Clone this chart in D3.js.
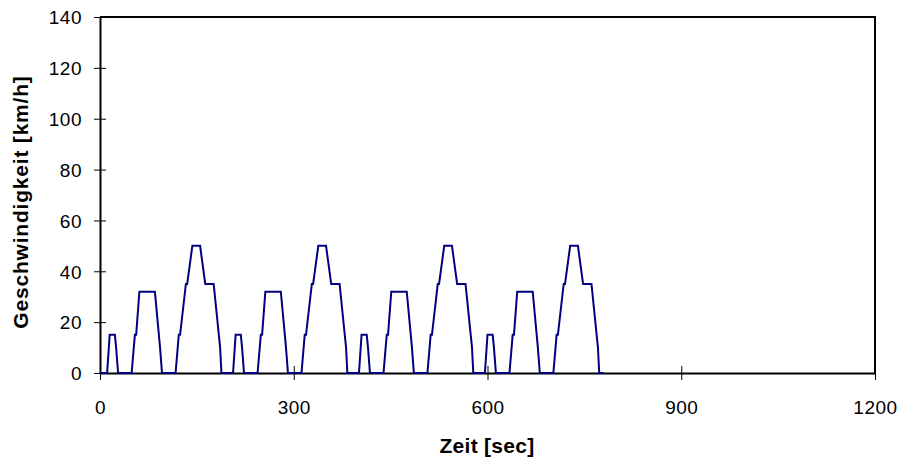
<!DOCTYPE html>
<html>
<head>
<meta charset="utf-8">
<script src="https://cdn.jsdelivr.net/npm/d3@7"></script>
<style>
  body { margin: 0; background: #fff; }
  text { font-family: "Liberation Sans", Arial, sans-serif; }
</style>
</head>
<body>
<div id="root"></div>
<script>
// ECE-15 urban cycle, four times in a row (time in s, speed in km/h)
const times = [
  0, 11, 15, 23, 25, 28, 49, 54, 56, 61, 85, 93, 96, 117, 122, 124, 133, 135, 143, 155, 163, 176, 186, 188, 195,
  206, 210, 218, 220, 223, 244, 249, 251, 256, 280, 288, 291, 312, 317, 319, 328, 330, 338, 350, 358, 371, 381, 383, 390,
  401, 405, 413, 415, 418, 439, 444, 446, 451, 475, 483, 486, 507, 512, 514, 523, 525, 533, 545, 553, 566, 576, 578, 585,
  596, 600, 608, 610, 613, 634, 639, 641, 646, 670, 678, 681, 702, 707, 709, 718, 720, 728, 740, 748, 761, 771, 773, 780
];
const speeds = [
  0, 0, 15, 15, 10, 0, 0, 15, 15, 32, 32, 10, 0, 0, 15, 15, 35, 35, 50, 50, 35, 35, 10, 0, 0,
  0, 15, 15, 10, 0, 0, 15, 15, 32, 32, 10, 0, 0, 15, 15, 35, 35, 50, 50, 35, 35, 10, 0, 0,
  0, 15, 15, 10, 0, 0, 15, 15, 32, 32, 10, 0, 0, 15, 15, 35, 35, 50, 50, 35, 35, 10, 0, 0,
  0, 15, 15, 10, 0, 0, 15, 15, 32, 32, 10, 0, 0, 15, 15, 35, 35, 50, 50, 35, 35, 10, 0, 0
];
const xTicks = [0, 300, 600, 900, 1200];
const yTicks = [0, 20, 40, 60, 80, 100, 120, 140];
const xTitle = 'Zeit [sec]';
const yTitle = 'Geschwindigkeit [km/h]';

const w = 902, h = 459;
const pLeft = 100, pRight = 875, pTop = 17, pBottom = 373;

const svg = d3.select('#root').append('svg')
  .attr('width', w)
  .attr('height', h);

const x = d3.scaleLinear().domain([0, 1200]).range([pLeft, pRight]);
const y = d3.scaleLinear().domain([0, 140]).range([pBottom, pTop]);

// plot frame (top + right)
svg.append('path')
  .attr('d', `M${pLeft},${pTop}H${pRight}V${pBottom}`)
  .attr('fill', 'none')
  .attr('stroke', '#000')
  .attr('stroke-width', 2);

// axes, ticks cross the axis line
const xAxis = d3.axisBottom(x).tickValues(xTicks).tickFormat(d3.format('d'))
  .tickSize(7).tickSizeOuter(0);
const gx = svg.append('g')
  .attr('transform', `translate(0,${pBottom})`)
  .call(xAxis);
gx.select('.domain').attr('stroke-width', 2);
gx.selectAll('.tick line').attr('y1', -7);
gx.selectAll('.tick text')
  .attr('y', 0).attr('dy', 41)
  .attr('font-size', 19).attr('letter-spacing', 0.5)
  .attr('fill', '#000');

const yAxis = d3.axisLeft(y).tickValues(yTicks).tickSize(6).tickSizeOuter(0);
const gy = svg.append('g')
  .attr('transform', `translate(${pLeft},0)`)
  .call(yAxis);
gy.select('.domain').attr('stroke-width', 2);
gy.selectAll('.tick line').attr('x1', 6);
gy.selectAll('.tick text')
  .attr('x', -18).attr('dy', '0.36em')
  .attr('font-size', 19).attr('letter-spacing', 0.5)
  .attr('fill', '#000');
svg.selectAll('.tick line').attr('stroke', '#000');

// speed trace
const pts = times.map((t, i) => [t, speeds[i]]);
const line = d3.line().x(d => x(d[0])).y(d => y(d[1]));
svg.append('path')
  .datum(pts)
  .attr('d', line)
  .attr('fill', 'none')
  .attr('stroke', '#000080')
  .attr('stroke-width', 2);

// titles
svg.append('text')
  .attr('x', 487).attr('y', 453)
  .attr('text-anchor', 'middle')
  .attr('font-size', 21).attr('font-weight', 'bold').attr('letter-spacing', 0.3)
  .text(xTitle);

svg.append('text')
  .attr('transform', 'translate(28,202) rotate(-90)')
  .attr('text-anchor', 'middle')
  .attr('font-size', 21).attr('font-weight', 'bold').attr('letter-spacing', 0.8)
  .text(yTitle);
</script>
</body>
</html>
